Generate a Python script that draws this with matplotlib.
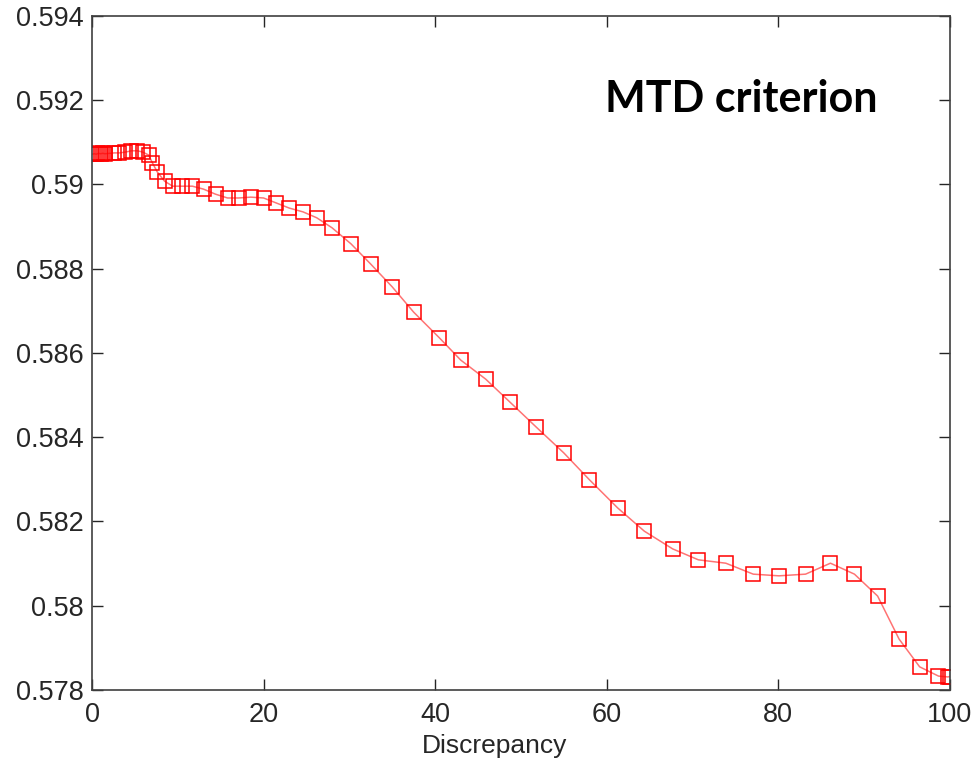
import matplotlib
matplotlib.use("Agg")
import matplotlib.pyplot as plt

### DATA ###
discrepancy = [0, 0.25, 0.5, 0.75, 1.0, 1.25, 1.5, 2.6, 3.2, 3.9, 4.6, 5.3, 5.9, 6.6,
               7.05, 7.6, 8.45, 9.4, 10.5, 11.7, 13.0, 14.4, 15.8, 17.1, 18.5, 20.0,
               21.5, 23.0, 24.6, 26.2, 28.0, 30.2, 32.5, 35.0, 37.5, 40.5, 43.0, 45.9,
               48.7, 51.8, 55.0, 58.0, 61.3, 64.4, 67.7, 70.7, 73.9, 77.1, 80.1, 83.2,
               86.1, 88.9, 91.6, 94.1, 96.5, 98.7, 99.8, 100]
mtd = [0.59072, 0.59073, 0.59072, 0.59074, 0.59073, 0.59074, 0.59073, 0.59075, 0.59075,
       0.59077, 0.59080, 0.59080, 0.59077, 0.59070,
       0.59051, 0.59030, 0.59008, 0.58996, 0.58996, 0.58996, 0.58989, 0.58977, 0.58968,
       0.58968, 0.58970, 0.58968, 0.58956, 0.58944, 0.58935, 0.58921, 0.58897, 0.58859,
       0.58811, 0.58757, 0.58697, 0.58636, 0.58583, 0.58538, 0.58484, 0.58424, 0.58363,
       0.58299, 0.58232, 0.58177, 0.58135, 0.58109, 0.58101, 0.58075, 0.58071, 0.58075,
       0.58101, 0.58075, 0.58023, 0.57921, 0.57855, 0.57833, 0.57831, 0.57832]

x_ticks = [0, 20, 40, 60, 80, 100]
y_ticks = [0.578, 0.580, 0.582, 0.584, 0.586, 0.588, 0.590, 0.592, 0.594]
y_tick_labels = ['0.578', '0.58', '0.582', '0.584', '0.586', '0.588', '0.59', '0.592', '0.594']

### PLOT ###
plt.rcParams['font.family'] = ['Liberation Sans', 'DejaVu Sans']
fig = plt.figure(figsize=(9.76, 7.62), dpi=100)
ax = fig.add_axes([0.0943, 0.0945, 0.8787, 0.8845])

ax.plot(discrepancy, mtd, color='red', lw=1.1, alpha=0.55)
ax.plot(discrepancy, mtd, ls='none', marker='s', ms=9.8, mfc='none',
        mec='red', mew=1.1)

ax.set_xlim(0, 100)
ax.set_ylim(0.578, 0.594)
ax.set_xticks(x_ticks)
ax.set_yticks(y_ticks)
ax.set_yticklabels(y_tick_labels)
ax.tick_params(direction='in', length=8, width=1, colors='#262626', labelsize=19.5,
               top=True, right=True, pad=6)
ax.tick_params(axis='x', pad=9)
for s in ax.spines.values():
    s.set_color('#404040')
    s.set_linewidth(1.2)

ax.set_xlabel('Discrepancy', fontsize=19, color='#262626')
ax.xaxis.set_label_coords(0.469, -0.065)
ax.text(0.598, 0.858, 'MTD criterion', transform=ax.transAxes, ha='left',
        va='baseline', fontsize=31, fontweight='bold', family=['Lato', 'DejaVu Sans'])

fig.savefig('out.png', dpi=100)
